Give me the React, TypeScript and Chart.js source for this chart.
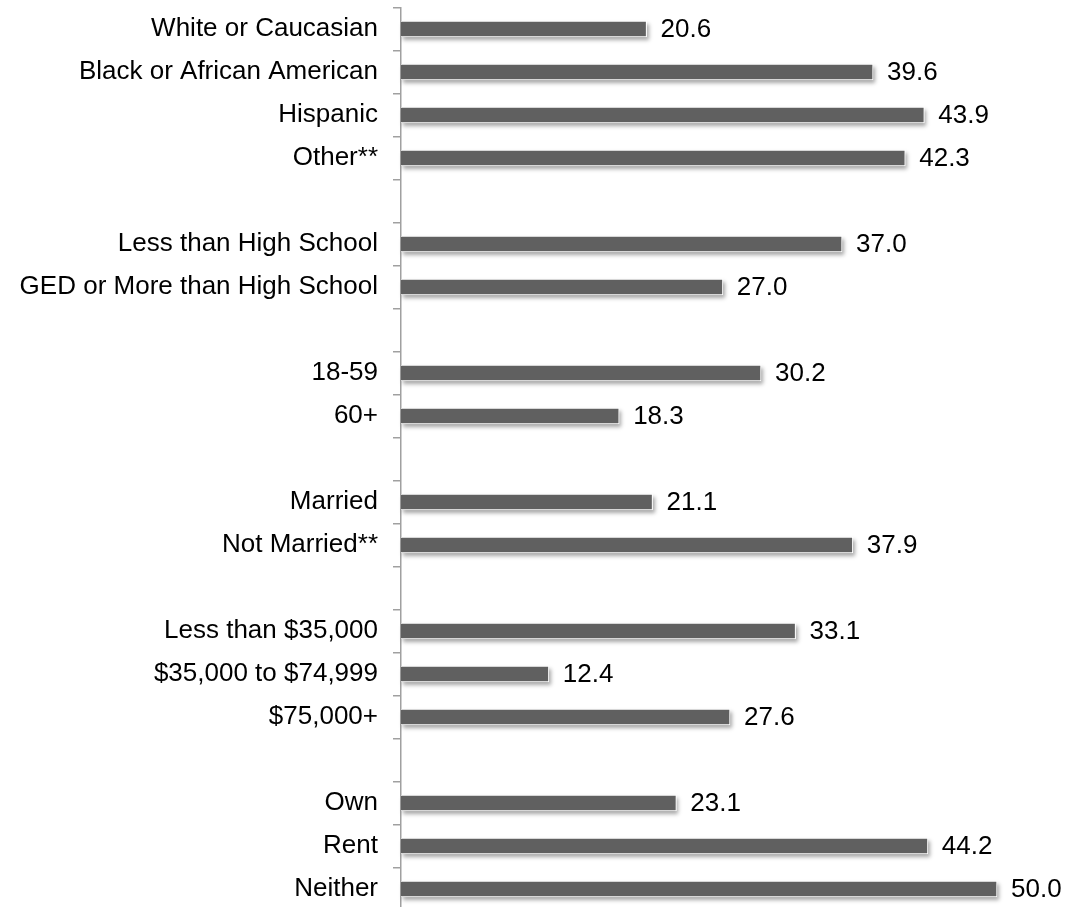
import React, { useEffect, useRef } from "react";
import { Chart, registerables } from "chart.js";

Chart.register(...registerables);

const categories: string[] = [
  "White or Caucasian",
  "Black or African American",
  "Hispanic",
  "Other**",
  "",
  "Less than High School",
  "GED or More than High School",
  "",
  "18-59",
  "60+",
  "",
  "Married",
  "Not Married**",
  "",
  "Less than $35,000",
  "$35,000 to $74,999",
  "$75,000+",
  "",
  "Own",
  "Rent",
  "Neither",
];

const values: (number | null)[] = [
  20.6, 39.6, 43.9, 42.3, null,
  37.0, 27.0, null,
  30.2, 18.3, null,
  21.1, 37.9, null,
  33.1, 12.4, 27.6, null,
  23.1, 44.2, 50.0,
];

const xMin = 0;
const xMax = 55;

const FONT = "'Liberation Sans', Arial, sans-serif";

const shadowPlugin = {
  id: "barShadow",
  beforeDatasetsDraw(chart: any) {
    const ctx = chart.ctx;
    const meta = chart.getDatasetMeta(0);
    ctx.save();
    ctx.shadowColor = "rgba(0,0,0,0.35)";
    ctx.shadowBlur = 4;
    ctx.shadowOffsetX = 2;
    ctx.shadowOffsetY = 3;
    ctx.fillStyle = "#ffffff";
    meta.data.forEach((el: any, i: number) => {
      if (values[i] == null) return;
      const { x, y, base, height } = el.getProps(["x", "y", "base", "height"], true);
      ctx.fillRect(base, y - height / 2, x - base, height);
    });
    ctx.restore();
  },
};

const valueLabelPlugin = {
  id: "valueLabels",
  afterDatasetsDraw(chart: any) {
    const ctx = chart.ctx;
    const meta = chart.getDatasetMeta(0);
    ctx.save();
    ctx.font = `26px ${FONT}`;
    ctx.fillStyle = "#000000";
    ctx.textAlign = "left";
    ctx.textBaseline = "middle";
    meta.data.forEach((el: any, i: number) => {
      const v = values[i];
      if (v == null) return;
      const { x, y } = el.getProps(["x", "y"], true);
      ctx.fillText(v.toFixed(1), x + 14, y + 1);
    });
    ctx.restore();
  },
};

export default function App() {
  const canvasRef = useRef<HTMLCanvasElement | null>(null);

  useEffect(() => {
    const canvas = canvasRef.current;
    if (!canvas) return;
    const chart = new Chart(canvas, {
      type: "bar",
      data: {
        labels: categories,
        datasets: [
          {
            data: values as any,
            backgroundColor: "#606060",
            borderColor: "#ffffff",
            borderWidth: 1,
            barThickness: 16,
          },
        ],
      },
      options: {
        indexAxis: "y",
        animation: false,
        responsive: false,
        maintainAspectRatio: false,
        layout: { padding: { top: 7.5, bottom: 4.5, left: 0, right: 13.4 } },
        plugins: {
          legend: { display: false },
          tooltip: { enabled: false },
          title: { display: false },
        },
        scales: {
          x: {
            display: false,
            min: xMin,
            max: xMax,
          },
          y: {
            afterFit: (s: any) => {
              s.width = 401;
              s.paddingTop = 0;
              s.paddingBottom = 0;
            },
            grid: {
              display: true,
              drawOnChartArea: false,
              drawTicks: true,
              tickLength: 8,
              color: "#a0a0a0",
              lineWidth: 1.5,
              offset: true,
            },
            border: { display: true, color: "#a0a0a0", width: 1.5 },
            ticks: {
              color: "#000000",
              padding: 15,
              autoSkip: false,
              font: { family: FONT, size: 26 },
            },
          },
        },
      },
      plugins: [shadowPlugin, valueLabelPlugin],
    });
    return () => chart.destroy();
  }, []);

  return (
    <div
      style={{
        position: "fixed",
        top: 0,
        left: 0,
        width: 1070,
        height: 907,
        overflow: "hidden",
        background: "#ffffff",
      }}
    >
      <canvas
        ref={canvasRef}
        width={1070}
        height={915}
        style={{ width: "1070px", height: "915px", display: "block" }}
      />
    </div>
  );
}
